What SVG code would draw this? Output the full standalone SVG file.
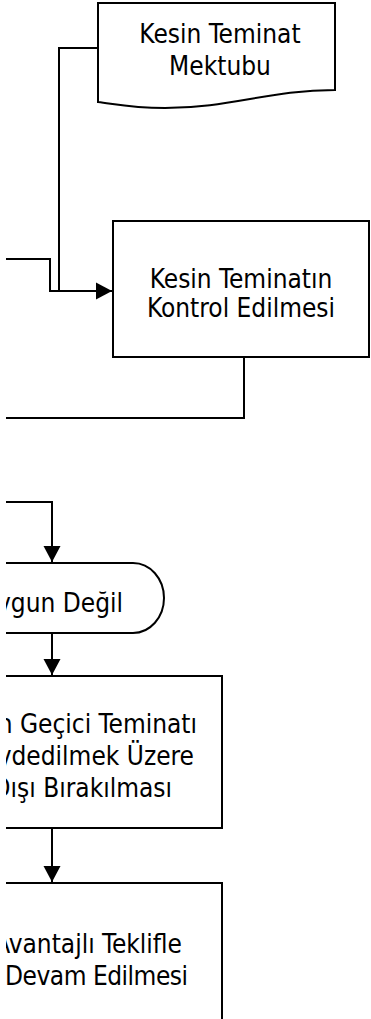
<svg xmlns="http://www.w3.org/2000/svg" width="371" height="1019" viewBox="0 0 371 1019">
<style>
.s{fill:#fff;stroke:#000;stroke-width:2}
.c{fill:none;stroke:#000;stroke-width:2}
text{font-family:"DejaVu Sans Condensed","DejaVu Sans",sans-serif;font-stretch:condensed;font-size:26px;fill:#000}
.m{text-anchor:middle}
.e{text-anchor:end}
</style>
<defs>
<clipPath id="clip"><rect x="6" y="0" width="365" height="1019"/></clipPath>
<marker id="arr" markerUnits="userSpaceOnUse" markerWidth="17" markerHeight="18" refX="16" refY="9" orient="auto">
<path d="M0,0.5 L16,9 L0,17.5 Z" fill="#000"/>
</marker>
</defs>
<rect width="371" height="1019" fill="#fff"/>
<g clip-path="url(#clip)">
<g id="connectors">
<path class="c" d="M98,48 H59 V291"/>
<path class="c" d="M6,259 H50 V291 H112" marker-end="url(#arr)"/>
<path class="c" d="M244,357 V418 H6"/>
<path class="c" d="M6,502 H52 V562" marker-end="url(#arr)"/>
<path class="c" d="M52,633 V675" marker-end="url(#arr)"/>
<path class="c" d="M52,828 V882" marker-end="url(#arr)"/>
</g>
<g id="node-kesin-teminat-mektubu">
<path class="s" d="M98,3 H335 V90 C270,90 230,108 165,108 C130,108 115,104 98,102 Z"/>
<text class="m" x="220" y="43">Kesin Teminat</text>
<text class="m" x="220" y="75">Mektubu</text>
</g>
<g id="node-kesin-teminatin-kontrol">
<rect class="s" x="113" y="221" width="256" height="136"/>
<text class="m" x="241" y="288">Kesin Teminatın</text>
<text class="m" x="241" y="317">Kontrol Edilmesi</text>
</g>
<g id="node-uygun-degil">
<path class="s" d="M-20,563 H133 A31,35 0 0 1 133,633 H-20 Z"/>
<text class="e" x="123" y="612">ygun Değil</text>
</g>
<g id="node-gecici-teminat">
<rect class="s" x="-20" y="676" width="242" height="152"/>
<text class="e" x="197" y="733">n Geçici Teminatı</text>
<text class="e" x="194" y="765">ydedilmek Üzere</text>
<text class="e" x="172" y="797">Dışı Bırakılması</text>
</g>
<g id="node-avantajli-teklif">
<rect class="s" x="-20" y="883" width="242" height="160"/>
<text class="e" x="182" y="953">Avantajlı Teklifle</text>
<text class="e" x="188" y="985" textLength="183">Devam Edilmesi</text>
</g>
</g>
</svg>
